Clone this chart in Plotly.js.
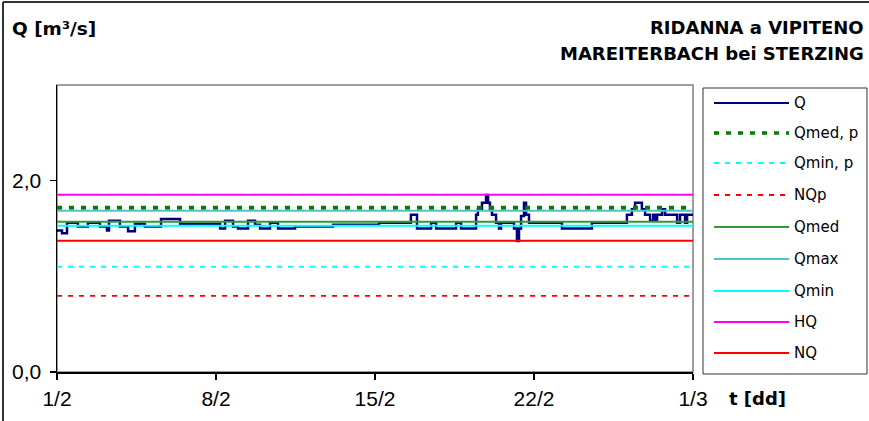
<!DOCTYPE html>
<html>
<head>
<meta charset="utf-8">
<script src="https://cdn.plot.ly/plotly-3.0.1.min.js"></script>
<style>
html,body{margin:0;padding:0;background:#fff;}
#chart{width:869px;height:421px;}
</style>
</head>
<body>
<div id="chart"></div>
<script>
// ---- DATA ----
// Q time series (days since 1/2) and discharge values, step-wise
const qDay = [0, 0.22, 0.44, 0.92, 1.36, 1.89, 2.20, 2.29, 2.77, 3.13, 3.43, 3.87, 4.58, 5.42,
  7.18, 7.40, 7.75, 7.97, 8.41, 8.72, 8.94, 9.38, 9.73, 10.48, 12.15, 14.18, 15.58, 15.85,
  16.47, 16.69, 17.57, 17.79, 18.45, 18.53, 18.71, 18.89, 18.98, 19.06, 19.15, 19.33, 19.46,
  19.55, 20.12, 20.25, 20.34, 20.43, 20.56, 20.65, 20.78, 22.23, 23.55, 25.09, 25.31, 25.45,
  25.75, 25.89, 26.11, 26.25, 26.32, 26.42, 26.64, 26.77, 27.30, 27.43, 27.65, 27.74, 28];
const qVal = [1.48, 1.45, 1.56, 1.52, 1.56, 1.52, 1.48, 1.58, 1.52, 1.47, 1.55, 1.52, 1.60, 1.55,
  1.50, 1.58, 1.52, 1.50, 1.58, 1.54, 1.50, 1.56, 1.50, 1.52, 1.54, 1.56, 1.645, 1.50,
  1.56, 1.50, 1.56, 1.50, 1.645, 1.70, 1.77, 1.85, 1.77, 1.70, 1.645, 1.56, 1.50,
  1.56, 1.50, 1.37, 1.50, 1.63, 1.77, 1.645, 1.56, 1.50, 1.56, 1.645, 1.70, 1.77,
  1.70, 1.645, 1.58, 1.645, 1.58, 1.645, 1.70, 1.645, 1.56, 1.645, 1.56, 1.645, 1.645];

// Reference levels
const refNames  = ['Qmed, p', 'Qmin, p', 'NQp', 'Qmed', 'Qmax', 'Qmin', 'HQ', 'NQ'];
const refValues = [1.717, 1.10, 0.796, 1.571, 1.686, 1.529, 1.853, 1.372];
const refColors = ['#008000', '#00FFFF', '#FF0000', '#339933', '#4CC4C8', '#00FFFF', '#FF00FF', '#FF0000'];
const refDash   = ['5px,7px', '5px,6px', '5px,6px', 'solid', 'solid', 'solid', 'solid', 'solid'];
const refWidth  = [4, 1.8, 1.8, 2, 2, 2, 2, 2];

const xRange = [0, 28];
const xTickVals = [0, 7, 14, 21, 28];
const xTickText = ['1/2', '8/2', '15/2', '22/2', '1/3'];
const yTickVals = [0, 2];
const yTickText = ['0,0', '2,0'];

// ---- LAYOUT HELPERS ----
const L = 57, R = 693, T = 85, B = 372;
const px = x => (x - L) / (R - L);
const py = y => (B - y) / (B - T);

const traces = [];
traces.push({x: qDay, y: qVal, type: 'scatter', mode: 'lines', name: 'Q',
  line: {color: '#000080', width: 2.5, shape: 'hv'}, hoverinfo: 'skip'});
refNames.forEach((n, i) => {
  traces.push({x: xRange, y: [refValues[i], refValues[i]], type: 'scatter', mode: 'lines', name: n,
    line: {color: refColors[i], width: refWidth[i], dash: refDash[i]}, hoverinfo: 'skip'});
});

// legend (custom)
const legNames = ['Q'].concat(refNames);
const legColors = ['#000080'].concat(refColors);
const legDash = ['solid'].concat(refDash);
const legWidth = [2].concat(refWidth.map(w => Math.min(w, 3.5)));
const legY = [103, 133, 163, 195, 227, 259, 291, 322, 353];

const tickFont = {family: 'Liberation Sans Narrow, Liberation Sans, Arial', size: 21, color: '#000'};

const shapes = [];
const annotations = [];
// outer chart border (top and left visible)
shapes.push({type: 'line', xref: 'paper', yref: 'paper', x0: px(3), x1: px(869), y0: py(2), y1: py(2),
  line: {color: '#333333', width: 2}});
shapes.push({type: 'line', xref: 'paper', yref: 'paper', x0: px(3), x1: px(3), y0: py(2), y1: py(421),
  line: {color: '#333333', width: 2}});
// plot area border
shapes.push({type: 'rect', xref: 'paper', yref: 'paper', x0: 0, x1: 1, y0: 0, y1: 1,
  line: {color: '#808080', width: 1.5}, layer: 'below'});
// legend box
shapes.push({type: 'rect', xref: 'paper', yref: 'paper', x0: px(703), x1: px(867), y0: py(374), y1: py(88),
  line: {color: '#333333', width: 1}, fillcolor: '#ffffff'});
legNames.forEach((n, i) => {
  shapes.push({type: 'line', xref: 'paper', yref: 'paper', x0: px(714), x1: px(789), y0: py(legY[i]), y1: py(legY[i]),
    line: {color: legColors[i], width: legWidth[i], dash: legDash[i]}});
  annotations.push({xref: 'paper', yref: 'paper', x: px(792), y: py(legY[i]), xanchor: 'left', yanchor: 'middle',
    text: n, showarrow: false, font: {family: 'DejaVu Sans', size: 15, color: '#000'}});
});

annotations.push({xref: 'paper', yref: 'paper', x: px(10), y: py(28), xanchor: 'left', yanchor: 'middle',
  text: 'Q [m³/s]', showarrow: false, font: {family: 'DejaVu Sans', size: 18.5, color: '#000', weight: 'bold'}});
annotations.push({xref: 'paper', yref: 'paper', x: px(866), y: py(27), xanchor: 'right', yanchor: 'middle',
  text: 'RIDANNA a VIPITENO', showarrow: false, font: {family: 'DejaVu Sans', size: 18, color: '#000', weight: 'bold'}});
annotations.push({xref: 'paper', yref: 'paper', x: px(866), y: py(53), xanchor: 'right', yanchor: 'middle',
  text: 'MAREITERBACH bei STERZING', showarrow: false, font: {family: 'DejaVu Sans', size: 18, color: '#000', weight: 'bold'}});
annotations.push({xref: 'paper', yref: 'paper', x: px(727), y: py(399), xanchor: 'left', yanchor: 'middle',
  text: 't [dd]', showarrow: false, font: {family: 'DejaVu Sans', size: 18, color: '#000', weight: 'bold'}});

const layout = {
  width: 869, height: 421,
  margin: {l: L, r: 869 - R, t: T, b: 421 - B, pad: 0},
  paper_bgcolor: '#ffffff', plot_bgcolor: '#ffffff',
  showlegend: false,
  xaxis: {range: xRange, tickvals: xTickVals, ticktext: xTickText, showgrid: false, zeroline: false,
    showline: true, linecolor: '#000', linewidth: 1.5, ticks: 'outside', ticklen: 6, tickcolor: '#000', tickwidth: 1.5,
    ticklabelstandoff: 1, tickfont: tickFont, fixedrange: true},
  yaxis: {range: [0, 3], tickvals: yTickVals, ticktext: yTickText, showgrid: false, zeroline: false,
    showline: true, linecolor: '#000', linewidth: 1.5, ticks: 'outside', ticklen: 6, tickcolor: '#000', tickwidth: 1.5,
    ticklabelstandoff: 4, tickfont: tickFont, fixedrange: true},
  shapes: shapes,
  annotations: annotations
};

Plotly.newPlot('chart', traces, layout, {displayModeBar: false, staticPlot: true});
</script>
</body>
</html>
